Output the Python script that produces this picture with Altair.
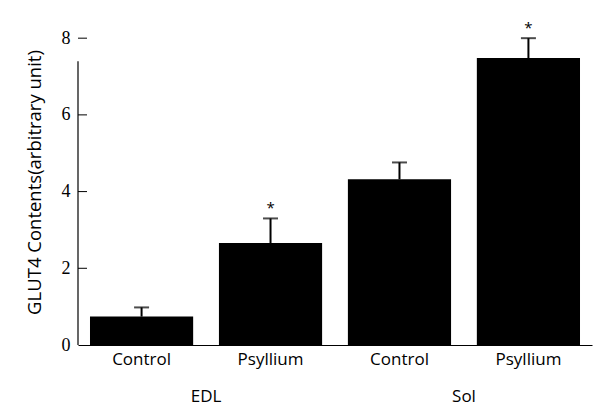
import altair as alt
import pandas as pd

# ---- data ----
muscles = ["EDL", "EDL", "Sol", "Sol"]
treatments = ["Control", "Psyllium", "Control", "Psyllium"]
means = [0.74, 2.66, 4.32, 7.48]
err_upper = [0.98, 3.30, 4.76, 8.00]
signif = ["", "*", "", "*"]
y_tick_values = [0, 2, 4, 6, 8]
y_axis_span = [0, 7.4]          # the drawn y-axis line stops below the "8" tick
group_names = ["EDL", "Sol"]
y_title = "GLUT4 Contents(arbitrary unit)"

keys = [m + " " + t for m, t in zip(muscles, treatments)]
df = pd.DataFrame({"key": keys, "mean": means, "upper": err_upper, "sig": signif})
groups_df = pd.DataFrame({"key": [k for k in keys if k.endswith("Control")], "name": group_names})
ticks_df = pd.DataFrame({"v": y_tick_values[1:]})
axis_df = pd.DataFrame({"y0": [y_axis_span[0]], "y1": [y_axis_span[1]]})

W, H = 514, 326
FONT = "Open Sans"

xscale = alt.Scale(domain=keys, paddingInner=0.2, paddingOuter=0.093)
yscale = alt.Scale(domain=[0, 8.5], nice=False)

x_axis = alt.Axis(labelExpr="split(datum.label, ' ')[1]", labelAngle=0, ticks=False,
                  labelFontSize=17, labelFont=FONT, labelColor="black", labelPadding=6,
                  domainColor="black", domainWidth=1.2, grid=False, orient="bottom")
y_axis = alt.Axis(values=y_tick_values, ticks=False, domain=False, grid=False,
                  labelFontSize=18, labelFont="Liberation Serif", labelColor="black",
                  labelPadding=8, titleFontSize=18.5, titleFont=FONT, orient="left",
                  titleFontWeight="normal", titleColor="black", titlePadding=17)


def X():
    return alt.X("key:N", scale=xscale, title=None, axis=x_axis)


def Y(field):
    return alt.Y(field, scale=yscale, title=y_title, axis=y_axis)


bars = alt.Chart(df).mark_bar(color="black").encode(x=X(), y=Y("mean:Q"))
err = alt.Chart(df).mark_rule(color="black", strokeWidth=2).encode(
    x=X(), y=Y("mean:Q"), y2="upper:Q")
caps = alt.Chart(df).mark_tick(color="black", orient="horizontal", size=15, thickness=2).encode(
    x=X(), y=Y("upper:Q"))
stars = alt.Chart(df).mark_text(color="black", fontSize=15, font=FONT, dy=-10).encode(
    x=X(), y=Y("upper:Q"), text="sig:N")
yaxis_line = alt.Chart(axis_df).mark_rule(color="black", strokeWidth=1.2).encode(
    x=alt.value(0), y=Y("y0:Q"), y2="y1:Q")
yticks = alt.Chart(ticks_df).mark_rule(color="black", strokeWidth=1).encode(
    y=Y("v:Q"), x=alt.value(0), x2=alt.value(9))
group_text = alt.Chart(groups_df).mark_text(color="black", fontSize=17, font=FONT, dx=64.5).encode(
    x=X(), y=alt.value(H + 52), text="name:N")

chart = alt.layer(bars, err, caps, stars, yaxis_line, yticks, group_text).properties(
    width=W, height=H,
    autosize=alt.AutoSizeParams(type="none"),
    padding={"left": 70, "top": 11, "right": 5, "bottom": 62},
).configure(background="white").configure_view(stroke=None)

chart.save("out.html", embed_options={"renderer": "svg", "actions": False})
